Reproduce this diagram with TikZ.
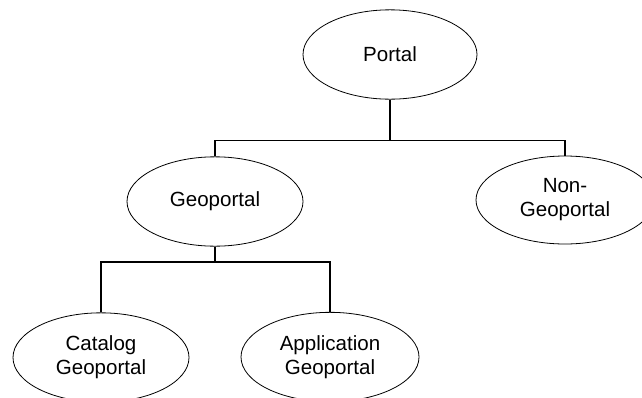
\documentclass[tikz,border=0pt]{standalone}
\usepackage{fontspec}
\setmainfont{Liberation Sans}
\usetikzlibrary{shapes.geometric}
\begin{document}
\begin{tikzpicture}[x=0.75pt,y=-0.75pt,
  oval/.style={ellipse, draw, line width=0.6pt, inner sep=0pt,
    minimum width=132pt, minimum height=67pt, align=center,
    font=\fontsize{15.4}{18}\selectfont},
  link/.style={line width=1.4pt}]
\useasboundingbox (0,0) rectangle (642,397);
\node[oval, minimum width=130.5pt] (portal) at (390,54.5) {Portal};
\node[oval] (geo) at (215,201.5) {Geoportal};
\node[oval, minimum width=133.5pt, minimum height=66pt] (non) at (565,200) {Non-\\Geoportal};
\node[oval] (cat) at (101,357.5) {Catalog\\Geoportal};
\node[oval, minimum width=133.5pt] (app) at (330,357) {Application\\Geoportal};
\coordinate (j1) at (390,140.5);
\coordinate (j2) at (215,262);
\draw[link] (portal.south) -- (j1);
\draw[link] (geo.north) |- (j1) -| (non.north);
\draw[link] (geo.south) -- (j2);
\draw[link] (cat.north) |- (j2) -| (app.north);
\end{tikzpicture}
\end{document}
